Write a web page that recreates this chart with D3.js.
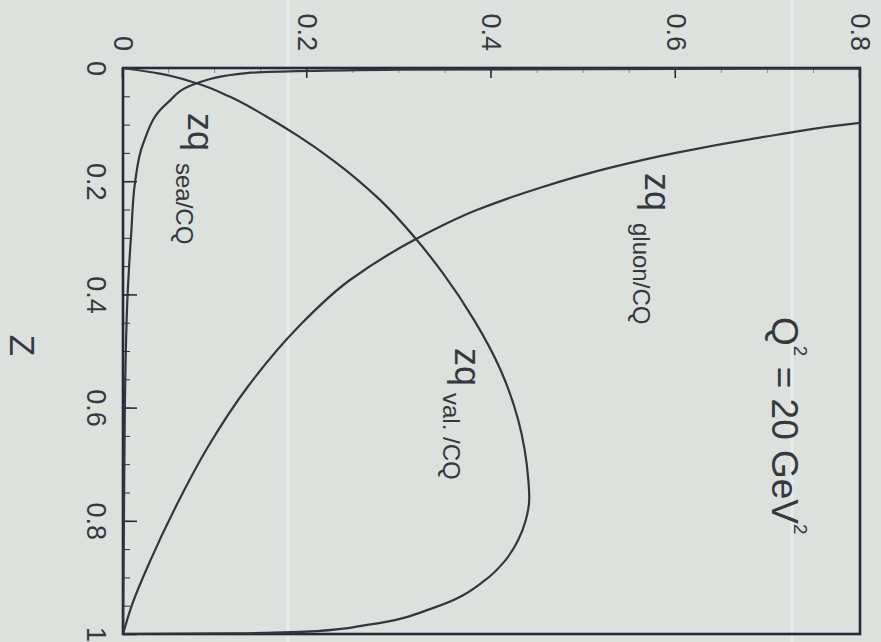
<!DOCTYPE html>
<html>
<head>
<meta charset="utf-8">
<script src="https://cdn.jsdelivr.net/npm/d3@7"></script>
<style>
  body { margin: 0; background: #dce1de; }
  svg { display: block; }
  text { font-family: "Liberation Sans", Arial, sans-serif; fill: #35383d; }
</style>
</head>
<body>
<div id="chart"></div>
<script>
// Values: momentum fraction z and z*q(z) for each parton
const valenceZ = [0, 0.01, 0.027, 0.05, 0.086, 0.12, 0.163, 0.233, 0.304, 0.362, 0.445, 0.534, 0.622, 0.728, 0.76, 0.8, 0.834, 0.87, 0.905, 0.952, 0.984, 0.995, 0.999, 1];
const valenceV = [0, 0.04, 0.08, 0.115, 0.156, 0.19, 0.228, 0.279, 0.319, 0.347, 0.381, 0.41, 0.429, 0.44, 0.441, 0.437, 0.429, 0.415, 0.393, 0.34, 0.265, 0.21, 0.12, 0];

const gluonZ = [0.08, 0.097, 0.118, 0.15, 0.177, 0.212, 0.251, 0.304, 0.375, 0.458, 0.564, 0.67, 0.776, 0.869, 0.952, 1];
const gluonV = [0.93, 0.8, 0.71, 0.6, 0.527, 0.452, 0.384, 0.316, 0.246, 0.19, 0.135, 0.092, 0.057, 0.03, 0.009, 0];

const seaZ = [0.0008, 0.0015, 0.003, 0.009, 0.027, 0.062, 0.133, 0.203, 0.29, 0.4, 0.6, 0.8, 1];
const seaV = [1.0, 0.6, 0.3, 0.134, 0.08, 0.048, 0.022, 0.013, 0.009, 0.005, 0.002, 0.001, 0];

const zTicks = [0, 0.2, 0.4, 0.6, 0.8, 1];
const zTickLabels = ["0", "0.2", "0.4", "0.6", "0.8", "1"];
const valueTicks = [0, 0.2, 0.4, 0.6, 0.8];
const valueTickLabels = ["0", "0.2", "0.4", "0.6", "0.8"];

const curveSubscripts = ["sea/CQ", "val. /CQ", "gluon/CQ"];
const axisTitle = "Z";

class PdfPlot {
  constructor(_config) {
    this.config = {
      parentElement: _config.parentElement,
      width: 881,
      height: 642,
      plotW: 566,   // z direction (drawn downward after rotation)
      plotH: 737,   // value direction (drawn rightward after rotation)
      corner: { x: 860, y: 68 }
    };
    this.initVis();
  }

  initVis() {
    const vis = this;
    const c = vis.config;

    vis.svgRoot = d3.select(c.parentElement).append("svg")
      .attr("width", c.width)
      .attr("height", c.height);

    vis.svgRoot.append("rect")
      .attr("width", c.width).attr("height", c.height)
      .attr("fill", "#dce1de");

    // faint light streaks of the scanned page
    vis.svgRoot.selectAll("line.streak")
      .data([288, 792])
      .join("line")
      .attr("class", "streak")
      .attr("x1", d => d).attr("x2", d => d)
      .attr("y1", 0).attr("y2", c.height)
      .attr("stroke", "#eef1ef")
      .attr("stroke-width", 3)
      .attr("stroke-opacity", 0.7);

    // the original figure is printed sideways, so the whole plot is turned clockwise
    vis.svg = vis.svgRoot.append("g")
      .attr("transform", `translate(${c.corner.x},${c.corner.y}) rotate(90)`);

    vis.xScale = d3.scaleLinear().domain([0, 1]).range([0, c.plotW]);
    vis.yScale = d3.scaleLinear().domain([0, 0.8]).range([c.plotH, 0]);

    vis.svg.append("clipPath").attr("id", "plot-clip")
      .append("rect").attr("width", c.plotW).attr("height", c.plotH);

    vis.updateVis();
  }

  updateVis() {
    const vis = this;
    vis.renderAxes();
    vis.renderCurves();
    vis.renderLabels();
  }

  renderAxes() {
    const vis = this;
    const c = vis.config;

    // minor ticks
    vis.svg.append("g")
      .attr("transform", `translate(0,${c.plotH})`)
      .call(d3.axisBottom(vis.xScale).tickValues(d3.range(0, 1.0001, 0.05))
        .tickSize(-7).tickSizeOuter(0).tickFormat(""))
      .call(g => g.select(".domain").remove());
    vis.svg.append("g")
      .call(d3.axisLeft(vis.yScale).tickValues(d3.range(0, 0.8001, 0.05))
        .tickSize(-5).tickSizeOuter(0).tickFormat(""))
      .call(g => g.select(".domain").remove())
      .selectAll("line").attr("stroke-opacity", 0.45);

    const xAxis = vis.svg.append("g")
      .attr("transform", `translate(0,${c.plotH})`)
      .call(d3.axisBottom(vis.xScale).tickValues(zTicks)
        .tickSize(-14).tickSizeOuter(0).tickPadding(17)
        .tickFormat((d, i) => zTickLabels[i]));
    const yAxis = vis.svg.append("g")
      .call(d3.axisLeft(vis.yScale).tickValues(valueTicks)
        .tickSize(-10).tickSizeOuter(0).tickPadding(17)
        .tickFormat((d, i) => valueTickLabels[i]));

    [xAxis, yAxis].forEach(ax => {
      ax.select(".domain").remove();
      ax.selectAll("line").attr("stroke-width", 1.6);
      ax.selectAll("text").style("font-size", "27px").attr("fill", "#3a3d42");
    });
    vis.svg.selectAll(".tick line").attr("stroke", "#2a2e3a");

    vis.svg.append("rect")
      .attr("width", c.plotW).attr("height", c.plotH)
      .attr("fill", "none")
      .attr("stroke", "#252a3a")
      .attr("stroke-width", 2.6);

    vis.svg.append("text")
      .attr("x", vis.xScale(0.49))
      .attr("y", c.plotH + 113)
      .attr("text-anchor", "middle")
      .style("font-size", "35px")
      .text(axisTitle);
  }

  renderCurves() {
    const vis = this;
    const line = d3.line()
      .x(d => vis.xScale(d[0]))
      .y(d => vis.yScale(d[1]))
      .curve(d3.curveMonotoneX);

    const series = [
      d3.zip(seaZ, seaV),
      d3.zip(valenceZ, valenceV),
      d3.zip(gluonZ, gluonV)
    ];

    vis.svg.append("g")
      .attr("clip-path", "url(#plot-clip)")
      .selectAll("path.curve")
      .data(series)
      .join("path")
      .attr("class", "curve")
      .attr("d", line)
      .attr("fill", "none")
      .attr("stroke", "#33363c")
      .attr("stroke-width", 2.2);
  }

  renderLabels() {
    const vis = this;
    // anchor of "zq" in data units, subscript offset in px
    const spots = [
      { z: 0.0795, v: 0.0706, dx: 50 },
      { z: 0.4947, v: 0.3604, dx: 45 },
      { z: 0.1855, v: 0.5666, dx: 50 }
    ];

    spots.forEach((s, i) => {
      const x = vis.xScale(s.z), y = vis.yScale(s.v);
      vis.svg.append("text")
        .attr("x", x).attr("y", y)
        .style("font-size", "36px")
        .text("zq");
      vis.svg.append("text")
        .attr("x", x + s.dx).attr("y", y + 12)
        .style("font-size", "24px")
        .text(curveSubscripts[i]);
    });

    const q = vis.svg.append("text")
      .attr("x", vis.xScale(0.44))
      .attr("y", vis.yScale(0.7045))
      .style("font-size", "37px");
    q.append("tspan").text("Q");
    q.append("tspan").attr("dy", -22).style("font-size", "19px").text("2");
    q.append("tspan").attr("dy", 22).text(" = 20 GeV");
    q.append("tspan").attr("dy", -22).style("font-size", "19px").text("2");
  }
}

new PdfPlot({ parentElement: "#chart" });
</script>
</body>
</html>
